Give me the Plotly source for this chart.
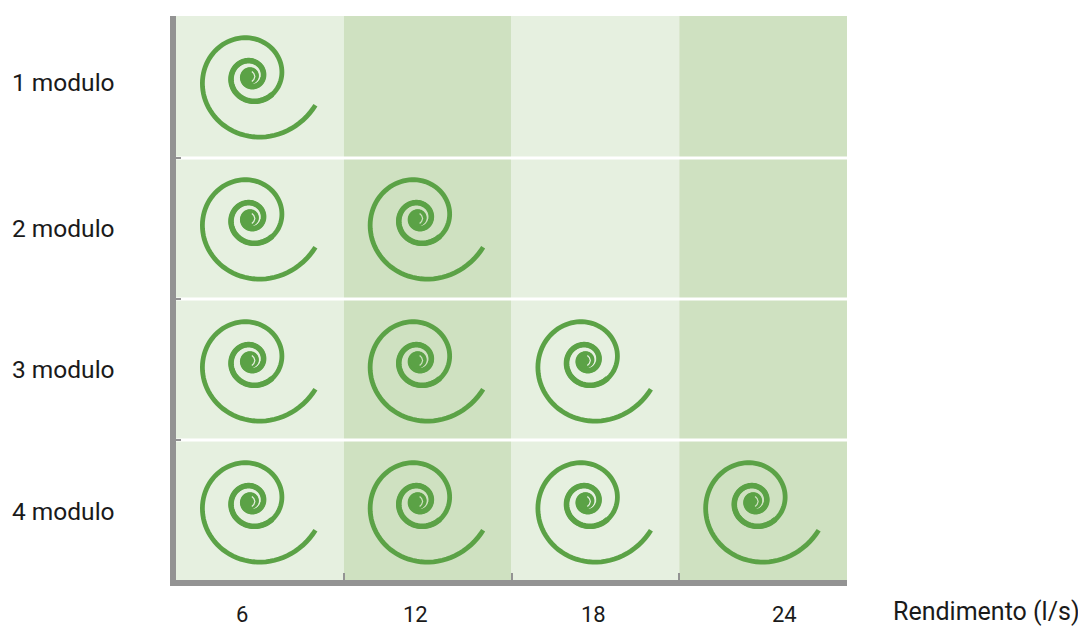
import math
import plotly.graph_objects as go

rendimento = [6, 12, 18, 24]
moduli = [1, 2, 3, 4]
modulo_labels = ["1 modulo", "2 modulo", "3 modulo", "4 modulo"]
spirali_per_modulo = [1, 2, 3, 4]
x_label_shift = [-18, -12, -2, 21]
y_label_shift = [-4, 1, 1, 2]
row_nudge = [-1, 0, 1, 1]
separatori = [1.5, 2.5, 3.5]
separatore_nudge = 1 / 141

# spiral icon outline, in px around the icon centre, converted to cell fractions
cell_w, cell_h = 167.75, 141
off_x, off_y = -9.0, -9.0   # icon centre relative to cell centre, px
angles = list(range(24, 1130, 4))
icon_px = [(60 * 0.8 ** ((a - 90) / 90) * math.cos(math.radians(a)),
            60 * 0.8 ** ((a - 90) / 90) * math.sin(math.radians(a))) for a in angles]
glyph_x = [(p[0] + off_x) / cell_w * 6 for p in icon_px]
glyph_y = [(p[1] + off_y) / cell_h for p in icon_px]
inner_start = next(i for i, a in enumerate(angles) if a >= 400)
core_x = (off_x - 1) / cell_w * 6
core_y = off_y / cell_h
sliver_px = [(1, -5), (3, -3), (4, 0), (3, 3), (1, 5)]
sliver_x = [(p[0] + off_x) / cell_w * 6 for p in sliver_px]
sliver_y = [(p[1] + off_y) / cell_h for p in sliver_px]

GREEN = "#5ba246"
GREY = "#939393"
LIGHT = "#e6f0e0"
DARK = "#cfe1c1"
FONT = "Roboto"
TEXT = "#1a1a1a"

fig = go.Figure()
for m, n, nudge in zip(moduli, spirali_per_modulo, row_nudge):
    dy = nudge / cell_h
    for i, r in enumerate(rendimento[:n]):
        fig.add_trace(go.Scatter(x=[r + v for v in glyph_x], y=[m + dy + v for v in glyph_y], mode="lines",
                                 line=dict(color=GREEN, width=4.8, simplify=False),
                                 hoverinfo="skip", showlegend=False))
        fig.add_trace(go.Scatter(x=[r + v for v in glyph_x[inner_start:]],
                                 y=[m + dy + v for v in glyph_y[inner_start:]], mode="lines",
                                 line=dict(color=GREEN, width=5.6, simplify=False),
                                 hoverinfo="skip", showlegend=False))
        fig.add_trace(go.Scatter(x=[r + core_x], y=[m + dy + core_y], mode="markers",
                                 marker=dict(color=GREEN, size=16), hoverinfo="skip", showlegend=False))
        fig.add_trace(go.Scatter(x=[r + v for v in sliver_x], y=[m + dy + v for v in sliver_y], mode="lines",
                                 line=dict(color=LIGHT if i % 2 == 0 else DARK, width=1.2, simplify=False),
                                 hoverinfo="skip", showlegend=False))

shapes = []
for i, r in enumerate(rendimento):
    shapes.append(dict(type="rect", xref="x", yref="paper", x0=r - 3, x1=r + 3, y0=0, y1=1,
                       fillcolor=LIGHT if i % 2 == 0 else DARK, line_width=0, layer="below"))
for s in separatori:
    shapes.append(dict(type="line", xref="paper", yref="y", x0=0, x1=1,
                       y0=s + separatore_nudge, y1=s + separatore_nudge,
                       line=dict(color="white", width=3), layer="below"))

annotations = []
for r, s in zip(rendimento, x_label_shift):
    annotations.append(dict(x=r, y=0, xref="x", yref="paper", text=str(r), showarrow=False,
                            xanchor="center", yanchor="top", xshift=s, yshift=-20,
                            font=dict(family=FONT, size=22, color=TEXT)))
for m, t, s in zip(moduli, modulo_labels, y_label_shift):
    annotations.append(dict(x=0, y=m, xref="paper", yref="y", text=t, showarrow=False,
                            xanchor="right", yanchor="middle", xshift=-59, yshift=-s,
                            font=dict(family=FONT, size=24.5, color=TEXT)))
annotations.append(dict(x=1, y=0, xref="paper", yref="paper", text="Rendimento (l/s)", showarrow=False,
                        xanchor="left", yanchor="top", xshift=44, yshift=-15,
                        font=dict(family=FONT, size=25, color=TEXT)))

W, H = 1078, 620   # the page adds an 8 px body margin
L, R, T, B = 168, 839, 8, 572
fig.update_layout(
    width=W, height=H, margin=dict(l=L, r=W - R, t=T, b=H - B), autosize=False,
    paper_bgcolor="white", plot_bgcolor="white", shapes=shapes, annotations=annotations,
    xaxis=dict(range=[3, 27], tickvals=[9, 15, 21], ticktext=["", "", ""], ticks="inside", ticklen=7,
               tickwidth=2, tickcolor=GREY, showgrid=False, zeroline=False, showline=True,
               linecolor=GREY, linewidth=6),
    yaxis=dict(range=[4.5, 0.5], tickvals=[s + separatore_nudge for s in separatori], ticktext=["", "", ""],
               ticks="inside", ticklen=5, tickwidth=2, tickcolor=GREY, showgrid=False, zeroline=False,
               showline=True, linecolor=GREY, linewidth=6),
)
fig.write_html("out.html", config=dict(displayModeBar=False))
